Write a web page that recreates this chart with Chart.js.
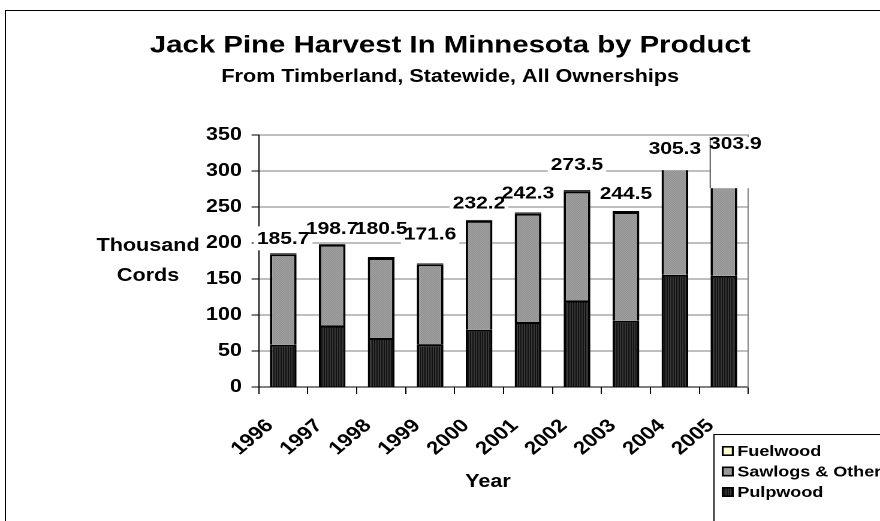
<!DOCTYPE html>
<html>
<head>
<meta charset="utf-8">
<script src="https://cdn.jsdelivr.net/npm/chart.js@4/dist/chart.umd.min.js"></script>
<style>
  html, body { margin: 0; padding: 0; background: #fff; overflow: hidden; }
  #wrap { width: 734px; height: 521px; transform: scaleX(1.19891); transform-origin: 0 0; }
</style>
</head>
<body>
<div id="wrap"><canvas id="c" width="734" height="521"></canvas></div>
<script>
// ---- data ----
const years = ['1996','1997','1998','1999','2000','2001','2002','2003','2004','2005'];
const pulpwood = [58.7, 85.5, 68.0, 59.6, 79.5, 90.2, 120.2, 92.0, 155.8, 154.4];
const sawlogs  = [125.6, 112.0, 111.2, 110.9, 151.2, 150.5, 151.5, 151.1, 148.0, 148.0];
const fuelwood = [1.4, 1.2, 1.3, 1.1, 1.5, 1.6, 1.8, 1.4, 1.5, 1.5];
const seriesNames = ['Pulpwood', 'Sawlogs & Other', 'Fuelwood'];
const titleText = 'Jack Pine Harvest In Minnesota by Product';
const subtitleText = 'From Timberland, Statewide, All Ownerships';
const yTitleLines = ['Thousand', 'Cords'];
const xTitleText = 'Year';

// ---- styling ----
const FONT = "'Liberation Sans', Arial, Helvetica, sans-serif";
Chart.defaults.font.family = FONT;
Chart.defaults.color = '#000';

function makePattern(cells) {
  const c = document.createElement('canvas');
  c.width = cells[0].length; c.height = cells.length;
  const g = c.getContext('2d');
  cells.forEach((row, j) => row.forEach((col, i) => { g.fillStyle = col; g.fillRect(i, j, 1, 1); }));
  return g.createPattern(c, 'repeat');
}
const pulpPattern = makePattern([['#000000', '#4a4a4a'], ['#000000', '#4a4a4a']]);
const sawPattern = makePattern([['#7a7a7a', '#b8b8b8'], ['#b8b8b8', '#7a7a7a']]);
const fuelColor = '#FFFFCC';

// label placement (rise above stack top in px, horizontal nudge, extra box sizes)
const labelStyle = {
  rise:  [15, 16, 29, 30, 17, 20, 26, 18, 19, 25],
  dx:    [0, 0, 0, 0, 0, 0, 0, 0, 0, 9.5],
  extra: [null, null, null, null, null, null, null, null,
          {l: 14, r: 7.5, t: -1, b: 10},
          {l: -3, r: 200, t: -6, b: 33, edge: true}]
};

const framePlugin = {
  id: 'frame',
  beforeDraw(chart) {
    const ctx = chart.ctx;
    ctx.save();
    ctx.fillStyle = '#fff';
    ctx.fillRect(0, 0, chart.width, chart.height);
    ctx.strokeStyle = '#000';
    ctx.lineWidth = 1;
    ctx.beginPath();
    ctx.moveTo(4.5, chart.height + 2);
    ctx.lineTo(4.5, 10.5);
    ctx.lineTo(chart.width + 2, 10.5);
    ctx.stroke();
    ctx.restore();
  }
};

const totalsPlugin = {
  id: 'totals',
  afterDatasetsDraw(chart) {
    const ctx = chart.ctx;
    const yScale = chart.scales.y;
    const metaTop = chart.getDatasetMeta(chart.data.datasets.length - 1);
    ctx.save();
    ctx.font = 'bold 17.5px ' + FONT;
    ctx.textAlign = 'center';
    ctx.textBaseline = 'middle';
    const items = chart.data.labels.map((lab, i) => {
      const total = chart.data.datasets.reduce((s, d) => s + d.data[i], 0);
      const txt = total.toFixed(1);
      const topPx = yScale.getPixelForValue(total);
      const cx = metaTop.data[i].x + labelStyle.dx[i];
      const cy = topPx - labelStyle.rise[i];
      return { txt, cx, cy, i };
    });
    // white backgrounds first
    items.forEach(({txt, cx, cy, i}) => {
      const w = ctx.measureText(txt).width;
      const ex = labelStyle.extra[i] || {l: 0, r: 0, t: 0, b: 0};
      const x0 = cx - w / 2 - 2.5 - ex.l;
      const x1 = cx + w / 2 + 2.5 + ex.r;
      const y0 = cy - 12 - ex.t;
      const y1 = cy + 12 + ex.b;
      ctx.fillStyle = '#fff';
      ctx.fillRect(x0, y0, x1 - x0, y1 - y0);
      if (ex.edge) {
        ctx.strokeStyle = '#555';
        ctx.lineWidth = 1;
        ctx.beginPath();
        ctx.moveTo(x0 + 0.5, y0);
        ctx.lineTo(x0 + 0.5, y1);
        ctx.stroke();
      }
    });
    // texts on top
    ctx.fillStyle = '#000';
    items.forEach(({txt, cx, cy}) => ctx.fillText(txt, cx, cy + 1));
    ctx.restore();
  }
};

const extrasPlugin = {
  id: 'extras',
  afterDraw(chart) {
    const ctx = chart.ctx;
    const ds = chart.data.datasets;
    ctx.save();
    // axis titles
    ctx.fillStyle = '#000';
    ctx.font = 'bold 18px ' + FONT;
    ctx.textAlign = 'center';
    ctx.textBaseline = 'middle';
    yTitleLines.forEach((t, k) => ctx.fillText(t, 123.5, 246 + k * 30));
    ctx.fillText(xTitleText, 407, 482);
    // legend box
    ctx.strokeStyle = '#000';
    ctx.lineWidth = 1;
    ctx.beginPath();
    ctx.moveTo(595.5, chart.height + 2);
    ctx.lineTo(595.5, 434.5);
    ctx.lineTo(chart.width + 2, 434.5);
    ctx.stroke();
    // legend entries (reverse order)
    ctx.font = 'bold 15px ' + FONT;
    ctx.textAlign = 'left';
    const order = ds.map((d, i) => i).reverse();
    order.forEach((di, row) => {
      const yc = 451 + row * 20.5;
      ctx.fillStyle = ds[di].backgroundColor;
      ctx.fillRect(602, yc - 5, 10, 10);
      ctx.lineWidth = 1.6;
      ctx.strokeStyle = '#000';
      ctx.strokeRect(602.8, yc - 4.2, 8.4, 8.4);
      ctx.fillStyle = '#000';
      ctx.fillText(ds[di].label, 615, yc + 1);
    });
    ctx.restore();
  }
};

new Chart(document.getElementById('c'), {
  type: 'bar',
  data: {
    labels: years,
    datasets: [
      { label: seriesNames[0], data: pulpwood, backgroundColor: pulpPattern },
      { label: seriesNames[1], data: sawlogs, backgroundColor: sawPattern },
      { label: seriesNames[2], data: fuelwood, backgroundColor: fuelColor, borderSkipped: false }
    ]
  },
  options: {
    responsive: false,
    animation: false,
    devicePixelRatio: 2,
    layout: { padding: { left: 17, right: 0, top: 0, bottom: 0 } },
    datasets: {
      bar: { borderColor: '#000', borderWidth: 2, barPercentage: 0.545, categoryPercentage: 1 }
    },
    plugins: {
      legend: { display: false },
      tooltip: { enabled: false },
      title: {
        display: true, text: titleText, color: '#000',
        font: { family: FONT, size: 24.5, weight: 'bold' },
        padding: { top: 31, bottom: 0 }
      },
      subtitle: {
        display: true, text: subtitleText, color: '#000',
        font: { family: FONT, size: 18, weight: 'bold' },
        padding: { top: 6, bottom: 47 }
      }
    },
    scales: {
      x: {
        stacked: true,
        offset: true,
        grid: { display: true, drawOnChartArea: false, offset: true, color: '#000', tickLength: 7 },
        border: { color: '#000', width: 1 },
        ticks: { color: '#000', font: { size: 18.5, weight: 'bold' }, minRotation: 45, maxRotation: 45, autoSkip: false, padding: 21, labelOffset: -11 },
        afterFit: s => { s.height = 134; }
      },
      y: {
        stacked: true,
        min: 0, max: 350,
        ticks: { stepSize: 50, color: '#000', font: { size: 18, weight: 'bold' }, padding: 8 },
        grid: { color: '#7f7f7f', tickColor: '#000', tickLength: 6 },
        border: { color: '#000', width: 1 },
        afterFit: s => { s.width = 198.8; }
      },
      y2: {
        position: 'right',
        display: true,
        grid: { display: false },
        ticks: { display: false },
        border: { display: true, color: '#7f7f7f', width: 1 },
        afterFit: s => { s.width = 109.8; }
      }
    }
  },
  plugins: [framePlugin, totalsPlugin, extrasPlugin]
});
</script>
</body>
</html>
